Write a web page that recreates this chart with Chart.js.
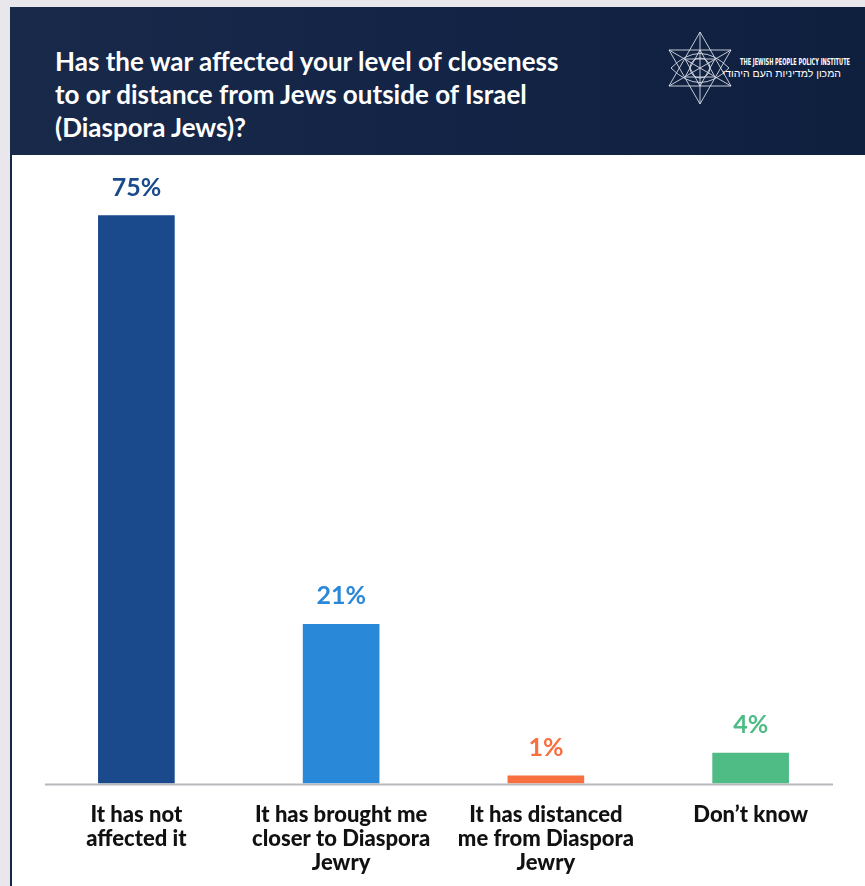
<!DOCTYPE html>
<html>
<head>
<meta charset="utf-8">
<script src="https://cdn.jsdelivr.net/npm/chart.js@4.4.1/dist/chart.umd.min.js"></script>
<style>
  body { margin: 0; background: #e9e7ec; width: 865px; height: 886px; overflow: hidden; position: relative; font-family: Lato, "Noto Sans", sans-serif; }
  #header {
    position: absolute; left: 10px; top: 7px; width: 855px; height: 148px;
    background: linear-gradient(90deg, #19294a 0%, #132446 50%, #0f1f3e 100%);
  }
  #title {
    position: absolute; left: 45px; top: 38px; margin: 0;
    color: #fff; font: bold 26px/33px Lato, "Noto Sans", sans-serif;
  }
  #logo { position: absolute; left: 645px; top: 18px; }
  #panel {
    position: absolute; left: 10px; top: 155px; width: 855px; height: 731px; overflow: hidden;
    background: #fff; border-left: 2px solid #15264a; box-sizing: border-box;
  }
  #chart-box { position: absolute; left: 0; top: 0; width: 853px; height: 731px; }
</style>
</head>
<body>
<div id="header">
  <h1 id="title">Has the war affected your level of closeness<br>to or distance from Jews outside of Israel<br>(Diaspora Jews)?</h1>
  <svg id="logo" width="200" height="90" viewBox="0 0 200 90">
    <g fill="none" stroke="#d8dce6" stroke-width="0.9">
      <polygon points="45,7 76,61 14,61"/>
      <polygon points="45,79 76,25 14,25"/>
      <polygon points="45,25 60,52 30,52"/>
      <polygon points="45,61 60,34 30,34"/>
      <path d="M16,43 Q45,14 74,43 Q45,72 16,43 Z"/>
      <circle cx="45" cy="43" r="10"/>
      <line x1="14" y1="25" x2="76" y2="61"/>
      <line x1="76" y1="25" x2="14" y2="61"/>
      <line x1="45" y1="7" x2="45" y2="79"/>
    </g>
    <text x="85" y="40" fill="#fff" font-family="'DejaVu Sans Condensed', 'Liberation Sans', sans-serif" font-size="8" font-weight="bold" textLength="110" lengthAdjust="spacingAndGlyphs">THE JEWISH PEOPLE POLICY INSTITUTE</text>
    <text x="186" y="52" fill="#fff" font-family="'Liberation Sans', 'Noto Sans', sans-serif" font-size="10.5" text-anchor="end">המכון למדיניות העם היהודי</text>
  </svg>
</div>
<div id="panel">
  <div id="chart-box"><canvas id="answers"></canvas></div>
</div>
<script>
const categories = [
  ["It has not", "affected it"],
  ["It has brought me", "closer to Diaspora", "Jewry"],
  ["It has distanced", "me from Diaspora", "Jewry"],
  ["Don\u2019t know"]
];
const shares = [75, 21, 1, 4];
const barColors = ["#1a4a8c", "#2a88d9", "#f8703f", "#4fbb85"];

// percentage printed above each bar, same colour as the bar
const valueLabels = {
  id: "valueLabels",
  afterDatasetsDraw(chart) {
    const ctx = chart.ctx;
    const meta = chart.getDatasetMeta(0);
    ctx.save();
    ctx.font = "bold 25px Lato, 'Noto Sans', sans-serif";
    ctx.textAlign = "center";
    ctx.textBaseline = "alphabetic";
    meta.data.forEach((bar, i) => {
      ctx.fillStyle = barColors[i];
      ctx.fillText(shares[i] + "%", bar.x, bar.y - 20);
    });
    ctx.restore();
  }
};

// grey base line, shorter than the category band on the right
const baseLine = {
  id: "baseLine",
  afterDatasetsDraw(chart) {
    const ctx = chart.ctx;
    const y = chart.scales.y.getPixelForValue(0);
    ctx.save();
    ctx.strokeStyle = "#b8b8bc";
    ctx.lineWidth = 2;
    ctx.beginPath();
    ctx.moveTo(33, y + 1);
    ctx.lineTo(821, y + 1);
    ctx.stroke();
    ctx.restore();
  }
};

const ctx = document.getElementById("answers").getContext("2d");
const answers = new Chart(ctx, {
  type: "bar",
  data: {
    labels: categories,
    datasets: [
      {
        data: shares,
        backgroundColor: barColors,
        barThickness: 76,
        borderWidth: 0
      }
    ]
  },
  options: {
    responsive: true,
    maintainAspectRatio: false,
    animation: false,
    layout: { padding: { left: 22, right: 12, top: 0, bottom: 0 } },
    plugins: {
      legend: { display: false },
      tooltip: { enabled: false }
    },
    scales: {
      x: {
        grid: { display: false },
        border: { display: false },
        ticks: {
          color: "#111",
          padding: 11,
          maxRotation: 0,
          font: { family: "Lato, sans-serif", weight: "900", size: 22, lineHeight: 1.1 }
        }
      },
      y: {
        display: false,
        min: 0,
        max: 83
      }
    }
  },
  plugins: [valueLabels, baseLine]
});
</script>
</body>
</html>
